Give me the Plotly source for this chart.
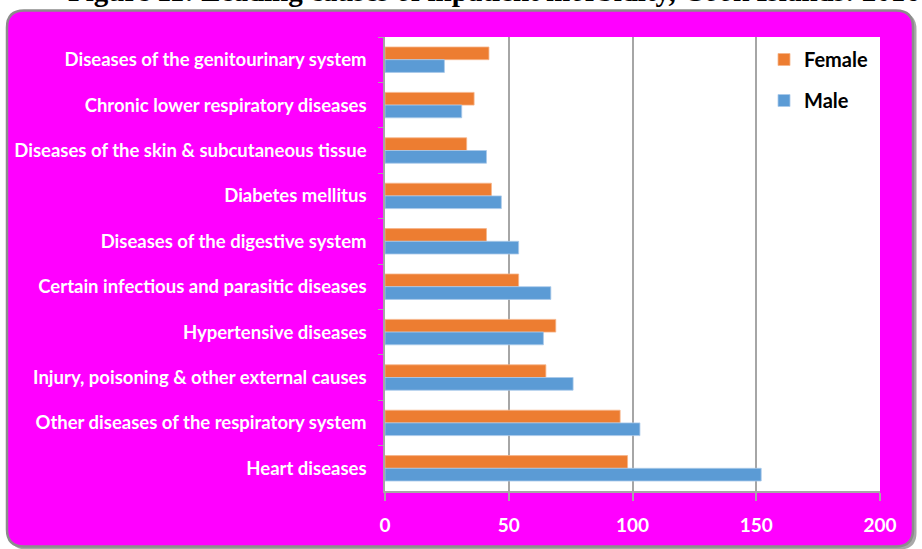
import plotly.graph_objects as go

# ---- data (top to bottom as displayed) ----
categories = [
    "Diseases of the genitourinary system",
    "Chronic lower respiratory diseases",
    "Diseases of the skin & subcutaneous tissue",
    "Diabetes mellitus",
    "Diseases of the digestive system",
    "Certain infectious and parasitic diseases",
    "Hypertensive diseases",
    "Injury, poisoning & other external causes",
    "Other diseases of the respiratory system",
    "Heart diseases",
]
female = [42, 36, 33, 43, 41, 54, 69, 65, 95, 98]
male = [24, 31, 41, 47, 54, 67, 64, 76, 103, 152]
x_ticks = [0, 50, 100, 150, 200]
title_text = "Figure 11: Leading causes of inpatient morbidity, Cook Islands: 2016"

# ---- layout geometry (pixels) ----
W, H = 922, 549
L, R, T, B = 385, 880, 37, 491


def px(x):
    return (x - L) / (R - L)


def py(y):
    return (B - y) / (B - T)


def rrect(x0, y0, x1, y1, r):
    return (
        f"M {px(x0 + r)},{py(y0)} L {px(x1 - r)},{py(y0)} "
        f"Q {px(x1)},{py(y0)} {px(x1)},{py(y0 + r)} "
        f"L {px(x1)},{py(y1 - r)} Q {px(x1)},{py(y1)} {px(x1 - r)},{py(y1)} "
        f"L {px(x0 + r)},{py(y1)} Q {px(x0)},{py(y1)} {px(x0)},{py(y1 - r)} "
        f"L {px(x0)},{py(y0 + r)} Q {px(x0)},{py(y0)} {px(x0 + r)},{py(y0)} Z"
    )


fig = go.Figure()
fig.add_trace(go.Bar(
    name="Female", y=categories, x=female, orientation="h",
    marker=dict(color="#ED7D31", line=dict(color="#F6B58A", width=0.8)),
    legendgroup="f",
))
fig.add_trace(go.Bar(
    name="Male", y=categories, x=male, orientation="h",
    marker=dict(color="#5B9BD5", line=dict(color="#A9C9EA", width=0.8)),
    legendgroup="m",
))

shapes = [
    # shadow
    dict(type="path", xref="paper", yref="paper", layer="below",
         path=rrect(9.5, 12.5, 916.5, 549.5, 17), fillcolor="#A8A8A8", line=dict(width=0)),
    # magenta panel
    dict(type="path", xref="paper", yref="paper", layer="below",
         path=rrect(7, 10.5, 913, 546.5, 17), fillcolor="#FF00FF",
         line=dict(color="#8C8C8C", width=2.5)),
    # white plot area
    dict(type="rect", xref="paper", yref="paper", layer="below",
         x0=0, x1=1, y0=0, y1=1, fillcolor="white", line=dict(width=0)),
]

fig.update_layout(
    width=W, height=H,
    margin=dict(l=L, r=W - R, t=T, b=H - B, pad=0),
    paper_bgcolor="white",
    plot_bgcolor="white",
    barmode="group",
    bargap=0.44,
    bargroupgap=0,
    shapes=shapes,
    showlegend=True,
    legend=dict(
        x=px(764), y=py(40), xanchor="left", yanchor="top",
        bgcolor="rgba(0,0,0,0)",
        font=dict(family="Lato", size=20, color="black", weight="bold"),
        traceorder="grouped", tracegroupgap=12,
    ),
    annotations=[
        dict(text=title_text, xref="paper", yref="paper",
             x=px(494), y=py(-9), xanchor="center", yanchor="middle",
             showarrow=False,
             font=dict(family="Liberation Serif", size=29, color="black", weight="bold")),
    ],
    xaxis=dict(
        range=[0, 200], tickvals=x_ticks, ticktext=[str(v) for v in x_ticks],
        showgrid=True, gridcolor="#A6A6A6", gridwidth=1.5,
        showline=True, linecolor="#A6A6A6", linewidth=1.5,
        ticks="outside", ticklen=8, tickcolor="#A6A6A6", tickwidth=1.5,
        ticklabelstandoff=8,
        tickfont=dict(family="Lato", size=19, color="white", weight="bold"),
        zeroline=False, fixedrange=True, automargin=False,
    ),
    yaxis=dict(
        type="category", categoryorder="array", categoryarray=categories,
        autorange="reversed",
        showgrid=False,
        showline=True, linecolor="#A6A6A6", linewidth=1.5,
        ticks="outside", ticklen=5, tickcolor="#A6A6A6", tickwidth=1,
        tickson="boundaries",
        ticklabelstandoff=13,
        tickfont=dict(family="Lato", size=18.5, color="white", weight="bold"),
        fixedrange=True, automargin=False,
    ),
)

fig.write_html(
    "out.html",
    config={"displayModeBar": False},
    post_script="document.body.style.margin='0';document.body.style.padding='0';",
)
